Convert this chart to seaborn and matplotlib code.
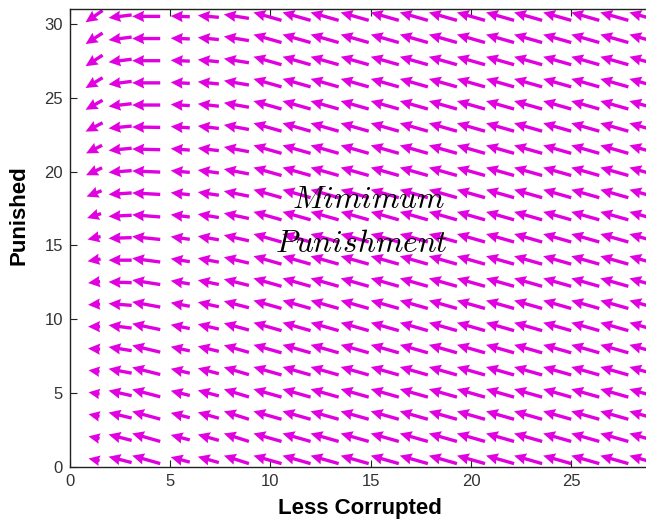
import numpy as np
import matplotlib
matplotlib.use("Agg")
import matplotlib.pyplot as plt
import seaborn as sns

# grid of arrow centres (data units)
x_centers = [1.2, 2.5, 3.8, 5.5, 6.9, 8.3, 9.85, 11.3, 12.7, 14.2,
             15.7, 17.15, 18.6, 20.0, 21.45, 22.85, 24.3, 25.7, 27.15, 28.6]
y_centers = [0.5, 2.0, 3.5, 5.0, 6.5, 8.0, 9.5, 11.0, 12.5, 14.0, 15.5,
             17.0, 18.5, 20.0, 21.5, 23.0, 24.5, 26.0, 27.5, 29.0, 30.5]

# left six columns: vertical component per row (bottom -> top)
v_left = [
    [0.15, 0.40, 0.54, 0.34, 0.40, 0.54],
    [0.15, 0.40, 0.54, 0.34, 0.40, 0.54],
    [0.15, 0.38, 0.52, 0.33, 0.40, 0.54],
    [0.12, 0.35, 0.50, 0.32, 0.38, 0.52],
    [0.10, 0.30, 0.48, 0.30, 0.37, 0.50],
    [0.05, 0.25, 0.45, 0.28, 0.35, 0.48],
    [0.00, 0.20, 0.40, 0.26, 0.33, 0.46],
    [-0.05, 0.12, 0.35, 0.24, 0.31, 0.44],
    [-0.10, 0.05, 0.30, 0.22, 0.29, 0.42],
    [-0.15, 0.00, 0.25, 0.20, 0.27, 0.40],
    [-0.20, -0.05, 0.20, 0.18, 0.25, 0.38],
    [-0.30, -0.08, 0.15, 0.16, 0.23, 0.36],
    [-0.40, -0.10, 0.10, 0.14, 0.21, 0.34],
    [-0.50, -0.12, 0.08, 0.12, 0.20, 0.33],
    [-0.55, -0.15, 0.05, 0.10, 0.18, 0.32],
    [-0.60, -0.15, 0.03, 0.09, 0.17, 0.31],
    [-0.65, -0.18, 0.00, 0.08, 0.16, 0.30],
    [-0.70, -0.20, 0.00, 0.07, 0.15, 0.29],
    [-0.75, -0.20, 0.00, 0.06, 0.14, 0.28],
    [-0.75, -0.20, 0.00, 0.05, 0.14, 0.28],
    [-0.80, -0.20, 0.00, 0.05, 0.13, 0.27],
]
# first column horizontal component per row (bottom -> top)
u_first = [-0.55, -0.55, -0.55, -0.55, -0.55, -0.6, -0.6, -0.6, -0.6, -0.65, -0.65,
           -0.7, -0.75, -0.8, -0.8, -0.85, -0.85, -0.85, -0.85, -0.85, -0.85]
# columns 2..6 horizontal component
u_left = [-1.15, -1.4, -0.95, -1.05, -1.25]
# the rest of the field
u_right = -1.4
v_right = 0.54

x_ticks = [0, 5, 10, 15, 20, 25]
y_ticks = [0, 5, 10, 15, 20, 25, 30]

sns.set_style("ticks", {"xtick.direction": "in", "ytick.direction": "in"})
plt.rcParams["font.family"] = ["Liberation Sans", "DejaVu Sans"]
plt.rcParams["mathtext.fontset"] = "cm"

X, Y = np.meshgrid(x_centers, y_centers)
U = np.full(X.shape, u_right)
V = np.full(X.shape, v_right)
U[:, 0] = u_first
U[:, 1:6] = u_left
V[:, :6] = np.array(v_left)

fig = plt.figure(figsize=(6.46, 5.24), dpi=100)
ax = fig.add_axes([70 / 646, 57 / 524, 576 / 646, 458 / 524])

ax.quiver(X, Y, U, V, angles="xy", scale_units="xy", scale=1, pivot="middle",
          color="#E000E0", width=0.0058, headwidth=3.4, headlength=3.6,
          headaxislength=3.3)

ax.text(14.89, 18.1, r"$Mimimum$", ha="center", va="center", fontsize=22.5,
        color="black")
ax.text(14.54, 15.1, r"$Punishment$", ha="center", va="center", fontsize=22.5,
        color="black")

ax.set_xlim(0, 28.73)
ax.set_ylim(0, 31)
ax.set_xticks(x_ticks)
ax.set_yticks(y_ticks)
ax.tick_params(axis="both", labelsize=12, length=5, width=0.8, pad=5,
               colors="#222222", top=True)
ax.tick_params(axis="both", labelcolor="#333333")
ax.spines["right"].set_visible(False)
for s in ["left", "bottom", "top"]:
    ax.spines[s].set_linewidth(1.0)
    ax.spines[s].set_color("#222222")

ax.set_xlabel("Less Corrupted", fontsize=16, fontweight="bold", color="black")
ax.set_ylabel("Punished", fontsize=16, fontweight="bold", color="black")
ax.xaxis.set_label_coords(0.503, -0.068)
ax.yaxis.set_label_coords(-0.07, 0.55)

fig.savefig("out.png", dpi=100, facecolor="white")
